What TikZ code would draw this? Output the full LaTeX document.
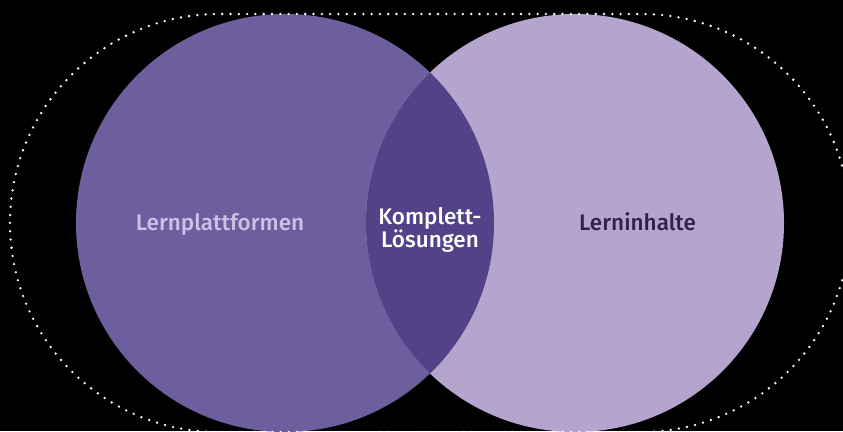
\documentclass[tikz,border=0pt]{standalone}
\usepackage{fontspec}
\newfontfamily\labelfont{Fira Sans Medium}
\usetikzlibrary{positioning}
\definecolor{platformcol}{RGB}{109,94,158}
\definecolor{contentcol}{RGB}{180,164,206}
\definecolor{lenscol}{RGB}{82,66,136}
\definecolor{platformtxt}{RGB}{204,194,232}
\definecolor{contenttxt}{RGB}{52,32,80}

\begin{document}
\begin{tikzpicture}[x=1pt,y=-1pt,
		venntext/.style={font=\labelfont\fontsize{22.5}{21.7}\selectfont, inner sep=0pt, align=center},
		dotring/.style={white, line width=2.6pt, line cap=round, dash pattern=on 0pt off 8.3pt}]
		
		\fill[black] (0,0) rectangle (843,431);
		\useasboundingbox (0,0) rectangle (843,431);
		\clip (0,0) rectangle (843,431);
		
		\coordinate (cl) at (285,223);
		\coordinate (cr) at (575,223);
		
		% the two sets
		\fill[platformcol] (cl) circle[radius=209pt];
		\fill[contentcol] (cr) circle[radius=209pt];
		\begin{scope}
		\clip (cl) circle[radius=209pt];
		\fill[lenscol] (cr) circle[radius=209pt];
		\end{scope}
		
		% dotted outline
		\draw[dotring, rounded corners=208.9pt] (10,14) rectangle (850,432);
		
		\node[venntext, anchor=base, text=platformtxt] (platform) at (220,230.7) {Lernplattformen};
		\node[venntext, anchor=base, text=contenttxt] (content) at (637.5,230.7) {Lerninhalte};
		\node[venntext, text=white] (combo) at (430,230) {Komplett-\\L\"osungen};
		\end{tikzpicture}
\end{document}
